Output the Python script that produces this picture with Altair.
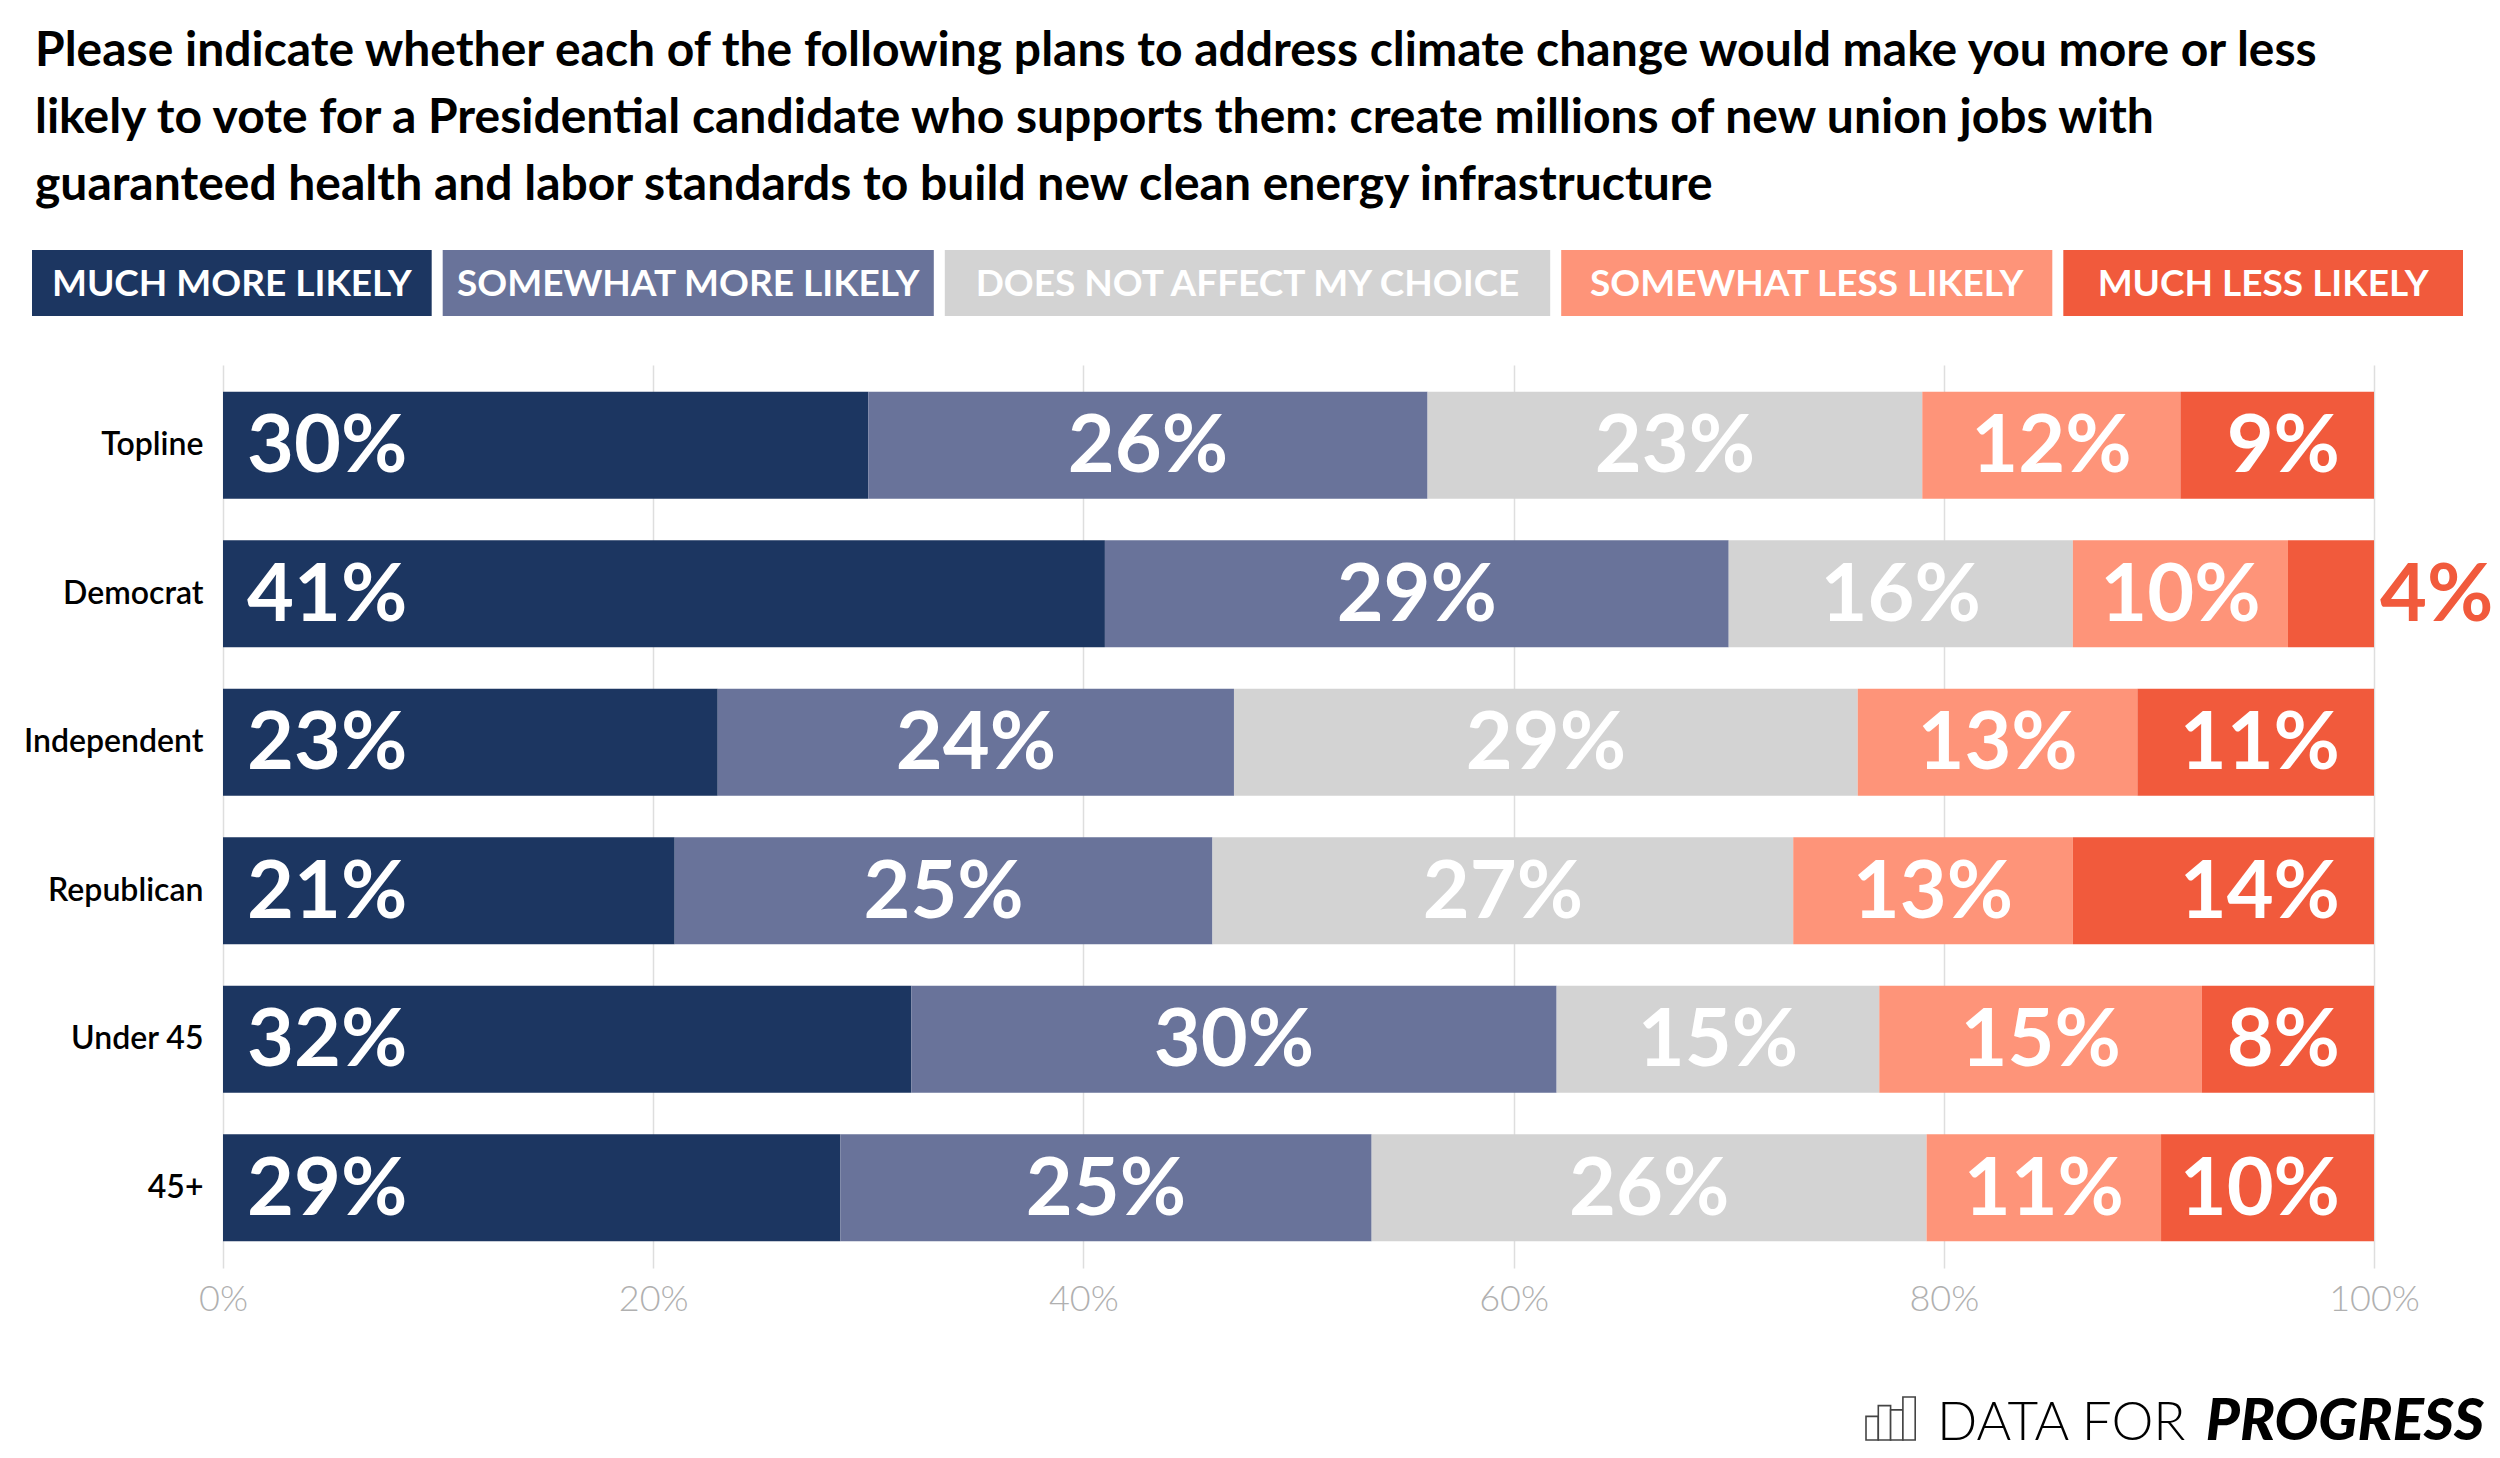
import altair as alt
import pandas as pd

# ---------------- data ----------------
groups = ["Topline", "Democrat", "Independent", "Republican", "Under 45", "45+"]
categories = ["MUCH MORE LIKELY", "SOMEWHAT MORE LIKELY", "DOES NOT AFFECT MY CHOICE",
              "SOMEWHAT LESS LIKELY", "MUCH LESS LIKELY"]
colors = ["#1c3661", "#69739a", "#d3d3d3", "#fe9479", "#f15a3c"]

much_more = [30, 41, 23, 21, 32, 28.7]
somewhat_more = [26, 29, 24, 25, 30, 24.7]
no_effect = [23, 16, 29, 27, 15, 25.8]
somewhat_less = [12, 10, 13, 13, 15, 10.9]
much_less = [9, 4, 11, 14, 8, 9.9]

x_ticks = [0, 20, 40, 60, 80, 100]

title_lines = [
    "Please indicate whether each of the following plans to address climate change would make you more or less",
    "likely to vote for a Presidential candidate who supports them: create millions of new union jobs with",
    "guaranteed health and labor standards to build new clean energy infrastructure",
]

# logo icon bar heights (relative)
icon_heights = [0.55, 0.8, 0.7, 1.0]

# ---------------- build table ----------------
series = [much_more, somewhat_more, no_effect, somewhat_less, much_less]
rows = []
for gi, g in enumerate(groups):
    acc = 0.0
    for ci, cat in enumerate(categories):
        v = series[ci][gi]
        rows.append(dict(group=g, category=cat, cat_idx=ci, value=v,
                         start=acc, end=acc + v, mid=acc + v / 2,
                         label=f"{round(v):d}%"))
        acc += v
df = pd.DataFrame(rows)

# ---------------- layout constants (pixels, relative to plot origin) ----------------
W, H = 2151, 903
FONT = "Lato"

color_scale = alt.Scale(domain=categories, range=colors)
y_enc = alt.Y("group:N", sort=groups,
              scale=alt.Scale(paddingInner=0.28, paddingOuter=0.18),
              axis=alt.Axis(title=None, domain=False, ticks=False, grid=False, labelFont=FONT,
                            labelFontSize=32, labelFontWeight=600, labelColor="#000000",
                            labelPadding=20))
x_scale = alt.Scale(domain=[0, 100], nice=False)
x_axis = alt.Axis(title=None, values=x_ticks, labelExpr="datum.value + '%'",
                  domain=False, ticks=False, grid=True, gridColor="#dedede",
                  gridWidth=1.5, labelColor="#b0b0b0", labelFont=FONT,
                  labelFontWeight=300, labelFontSize=36, labelPadding=14,
                  labelFlush=False, labelOverlap=False)

base = alt.Chart(df)

bars = base.mark_bar().encode(
    y=y_enc,
    x=alt.X("start:Q", scale=x_scale, axis=x_axis),
    x2="end:Q",
    color=alt.Color("category:N", scale=color_scale, legend=None),
)

txt_kw = dict(font=FONT, fontSize=81, fontWeight="bold", baseline="middle", dy=3)

t_first = base.transform_filter("datum.cat_idx == 0").mark_text(
    align="left", dx=24, color="white", **txt_kw
).encode(y=alt.Y("group:N", sort=groups), x="start:Q", text="label:N")

t_mid = base.transform_filter("datum.cat_idx > 0 && datum.cat_idx < 4").mark_text(
    align="center", color="white", **txt_kw
).encode(y=alt.Y("group:N", sort=groups), x="mid:Q", text="label:N")

t_last_in = base.transform_filter("datum.cat_idx == 4 && datum.value >= 5").mark_text(
    align="right", dx=-34, color="white", **txt_kw
).encode(y=alt.Y("group:N", sort=groups), x="end:Q", text="label:N")

t_last_out = base.transform_filter("datum.cat_idx == 4 && datum.value < 5").mark_text(
    align="left", dx=6, color=colors[4], **txt_kw
).encode(y=alt.Y("group:N", sort=groups), x="end:Q", text="label:N")

# ---------------- legend row (boxes sized from label length) ----------------
leg_left, leg_right = -191, 2240
gap, pad = 11, 34
total_chars = sum(len(c) for c in categories)
k = (leg_right - leg_left - gap * (len(categories) - 1) - pad * len(categories)) / total_chars
leg_rows = []
pos = leg_left
for c in categories:
    w = pad + k * len(c)
    leg_rows.append(dict(category=c, lx0=pos, lx1=pos + w, lxm=pos + w / 2))
    pos += w + gap
leg_df = pd.DataFrame(leg_rows)

leg_box = alt.Chart(leg_df).mark_rect().encode(
    x=alt.X("lx0:Q", scale=None), x2="lx1:Q",
    y=alt.value(-115), y2=alt.value(-49),
    color=alt.Color("category:N", scale=color_scale, legend=None),
)
leg_txt = alt.Chart(leg_df).mark_text(
    font=FONT, fontSize=37, fontWeight="bold", color="white", baseline="middle", align="center", dy=2
).encode(x=alt.X("lxm:Q", scale=None), y=alt.value(-82), text="category:N")

# ---------------- logo ----------------
icon_df = pd.DataFrame({
    "ix0": [1643 + i * 12.3 for i in range(len(icon_heights))],
    "ix1": [1643 + (i + 1) * 12.3 for i in range(len(icon_heights))],
    "iy0": [1075 - h * 43 for h in icon_heights],
    "iy1": [1075] * len(icon_heights),
})
icon = alt.Chart(icon_df).mark_rect(fill="white", stroke="#444444", strokeWidth=1.6).encode(
    x=alt.X("ix0:Q", scale=None), x2="ix1:Q",
    y=alt.Y("iy0:Q", scale=None), y2="iy1:Q",
)
logo1 = alt.Chart(pd.DataFrame({"t": ["DATA FOR"]})).mark_text(
    font=FONT, fontSize=53, fontWeight=300, color="black", align="left", baseline="alphabetic"
).encode(x=alt.value(1714), y=alt.value(1075), text="t:N")
logo2 = alt.Chart(pd.DataFrame({"t": ["PROGRESS"]})).mark_text(
    font=FONT, fontSize=58, fontWeight=900, fontStyle="italic", color="black",
    align="right", baseline="alphabetic"
).encode(x=alt.value(2261), y=alt.value(1075), text="t:N")

chart = alt.layer(
    bars, t_first, t_mid, t_last_in, t_last_out, leg_box, leg_txt, icon, logo1, logo2
).properties(
    width=W, height=H,
    background="white",
    autosize=alt.AutoSizeParams(type="none"),
    padding={"left": 215, "top": 357, "right": 118, "bottom": 190},
    title=alt.TitleParams(text=title_lines, anchor="start", frame="group", font=FONT,
                          fontSize=48, fontWeight="bold", color="black", lineHeight=67,
                          dx=-188, offset=40),
).configure_view(strokeWidth=0, stroke="transparent")

chart.save("out.html", embed_options={"renderer": "svg", "actions": False})
